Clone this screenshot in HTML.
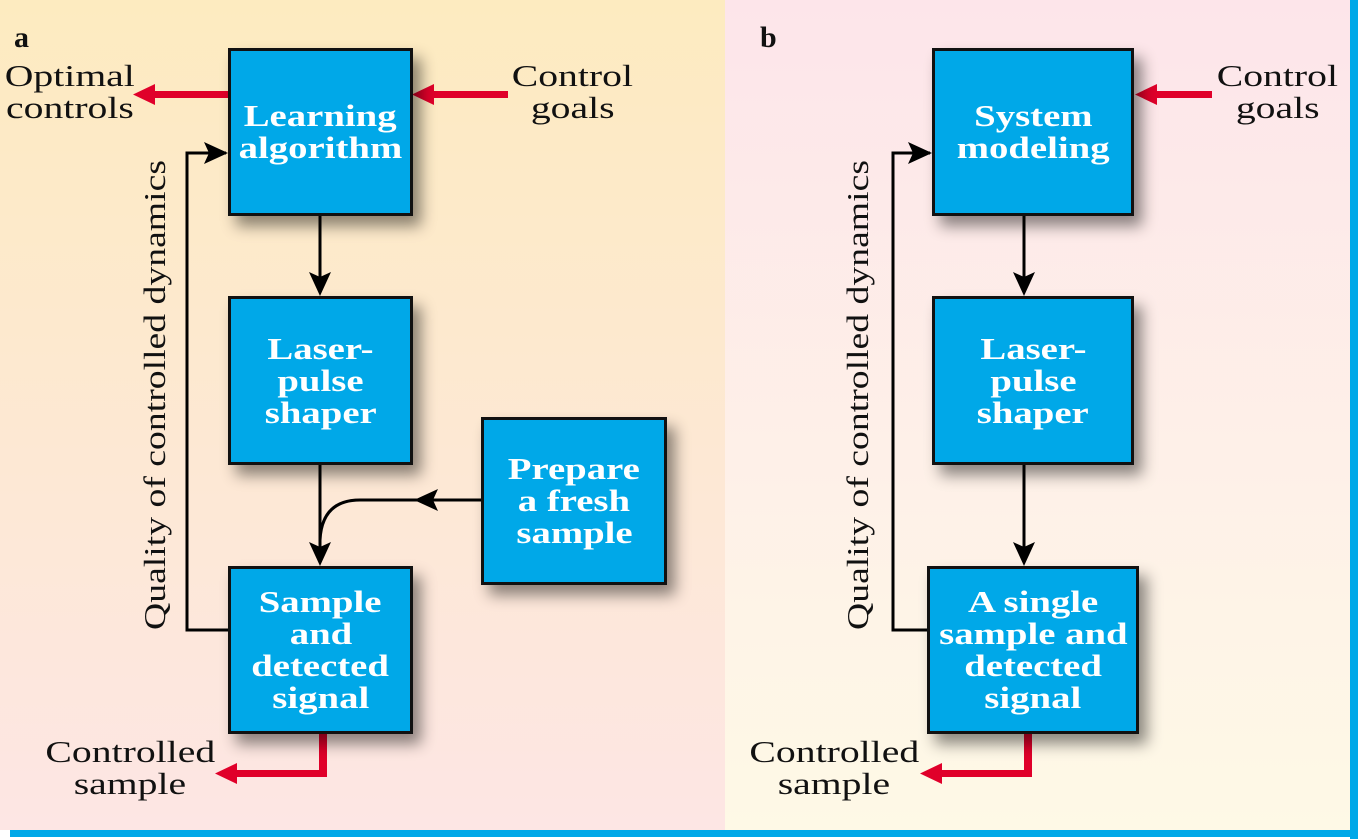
<!DOCTYPE html>
<html><head><style>
body{margin:0;width:1358px;height:839px;overflow:hidden;font-family:"Liberation Serif",serif;}
.bg{position:absolute;}
.box{position:absolute;background:#00a8e8;border:3px solid #111;box-sizing:border-box;box-shadow:8px 10px 14px rgba(0,0,0,0.45);color:#fff;font-weight:bold;font-size:31px;line-height:32px;text-align:center;display:flex;align-items:center;justify-content:center;}
.box span{display:inline-block;transform:scaleX(1.25);white-space:nowrap;}
.t{position:absolute;font-size:31px;line-height:32px;color:#111;text-align:center;}
.t span{display:inline-block;transform:scaleX(1.28);white-space:nowrap;}
</style></head><body>
<div class="bg" style="left:0;top:0;width:725px;height:830px;background:linear-gradient(#fdebc0,#fde6e4);"></div>
<div class="bg" style="left:725px;top:0;width:626px;height:830px;background:linear-gradient(#fde5ea,#fef9e6);"></div>
<div class="bg" style="left:1350px;top:0;width:8px;height:839px;background:#00a8e8;"></div>
<div class="bg" style="left:10px;top:830px;width:1348px;height:7px;background:#00a8e8;"></div>
<div class="t" style="left:14px;top:22px;font-weight:bold;font-size:30px;">a</div>
<div class="t" style="left:760px;top:22px;font-weight:bold;font-size:30px;">b</div>
<svg width="1358" height="839" style="position:absolute;left:0;top:0">
<g fill="#e0002a">
<rect x="150" y="91" width="78" height="7"/><path d="M133,94.5L155,84L155,105z"/>
<rect x="430" y="91" width="78" height="7"/><path d="M412,94.5L434,84L434,105z"/>
<rect x="1152" y="91" width="60" height="7"/><path d="M1135,94.5L1157,84L1157,105z"/>
<path d="M319,733h8v44h-90v-7h82z"/><path d="M215,773.5L237,763L237,784z"/>
<path d="M1024,733h8v44h-90v-7h82z"/><path d="M920,773.5L942,763L942,784z"/>
</g>
<g stroke="#000" stroke-width="3" fill="none">
<path d="M228,630H187V153H226"/>
<path d="M320,215V290"/>
<path d="M320,464V560"/>
<path d="M481,500H360Q322,500 320,540"/>
<path d="M927,630H893V153H930"/>
<path d="M1024,215V290"/>
<path d="M1024,464V560"/>
</g>
<g fill="#000">
<path d="M228,153L204,142L209,153L204,164z"/>
<path d="M320,296L309,272L320,277L331,272z"/>
<path d="M320,566L309,542L320,547L331,542z"/>
<path d="M414,500L438,489L433,500L438,511z"/>
<path d="M932,153L908,142L913,153L908,164z"/>
<path d="M1024,296L1013,272L1024,277L1035,272z"/>
<path d="M1024,566L1013,542L1024,547L1035,542z"/>
</g>
<text transform="translate(165,395) rotate(-90)" text-anchor="middle" font-family="Liberation Serif" font-size="31" fill="#111" textLength="470" lengthAdjust="spacingAndGlyphs">Quality of controlled dynamics</text>
<text transform="translate(868,395) rotate(-90)" text-anchor="middle" font-family="Liberation Serif" font-size="31" fill="#111" textLength="470" lengthAdjust="spacingAndGlyphs">Quality of controlled dynamics</text>
</svg>
<div class="t" style="left:0;top:60px;width:140px;"><span>Optimal</span><br><span>controls</span></div>
<div class="t" style="left:505px;top:60px;width:135px;"><span>Control</span><br><span>goals</span></div>
<div class="t" style="left:1210px;top:60px;width:135px;"><span>Control</span><br><span>goals</span></div>
<div class="t" style="left:40px;top:736px;width:180px;"><span>Controlled</span><br><span>sample</span></div>
<div class="t" style="left:744px;top:736px;width:180px;"><span>Controlled</span><br><span>sample</span></div>
<div class="box" style="left:228px;top:48px;width:185px;height:168px;"><div><span>Learning</span><br><span>algorithm</span></div></div>
<div class="box" style="left:228px;top:296px;width:185px;height:169px;"><div><span>Laser-</span><br><span>pulse</span><br><span>shaper</span></div></div>
<div class="box" style="left:228px;top:566px;width:185px;height:168px;"><div><span>Sample</span><br><span>and</span><br><span>detected</span><br><span>signal</span></div></div>
<div class="box" style="left:481px;top:417px;width:186px;height:168px;"><div><span>Prepare</span><br><span>a fresh</span><br><span>sample</span></div></div>
<div class="box" style="left:932px;top:48px;width:202px;height:168px;"><div><span>System</span><br><span>modeling</span></div></div>
<div class="box" style="left:932px;top:296px;width:202px;height:169px;"><div><span>Laser-</span><br><span>pulse</span><br><span>shaper</span></div></div>
<div class="box" style="left:927px;top:566px;width:212px;height:168px;"><div><span>A single</span><br><span>sample and</span><br><span>detected</span><br><span>signal</span></div></div>
</body></html>
